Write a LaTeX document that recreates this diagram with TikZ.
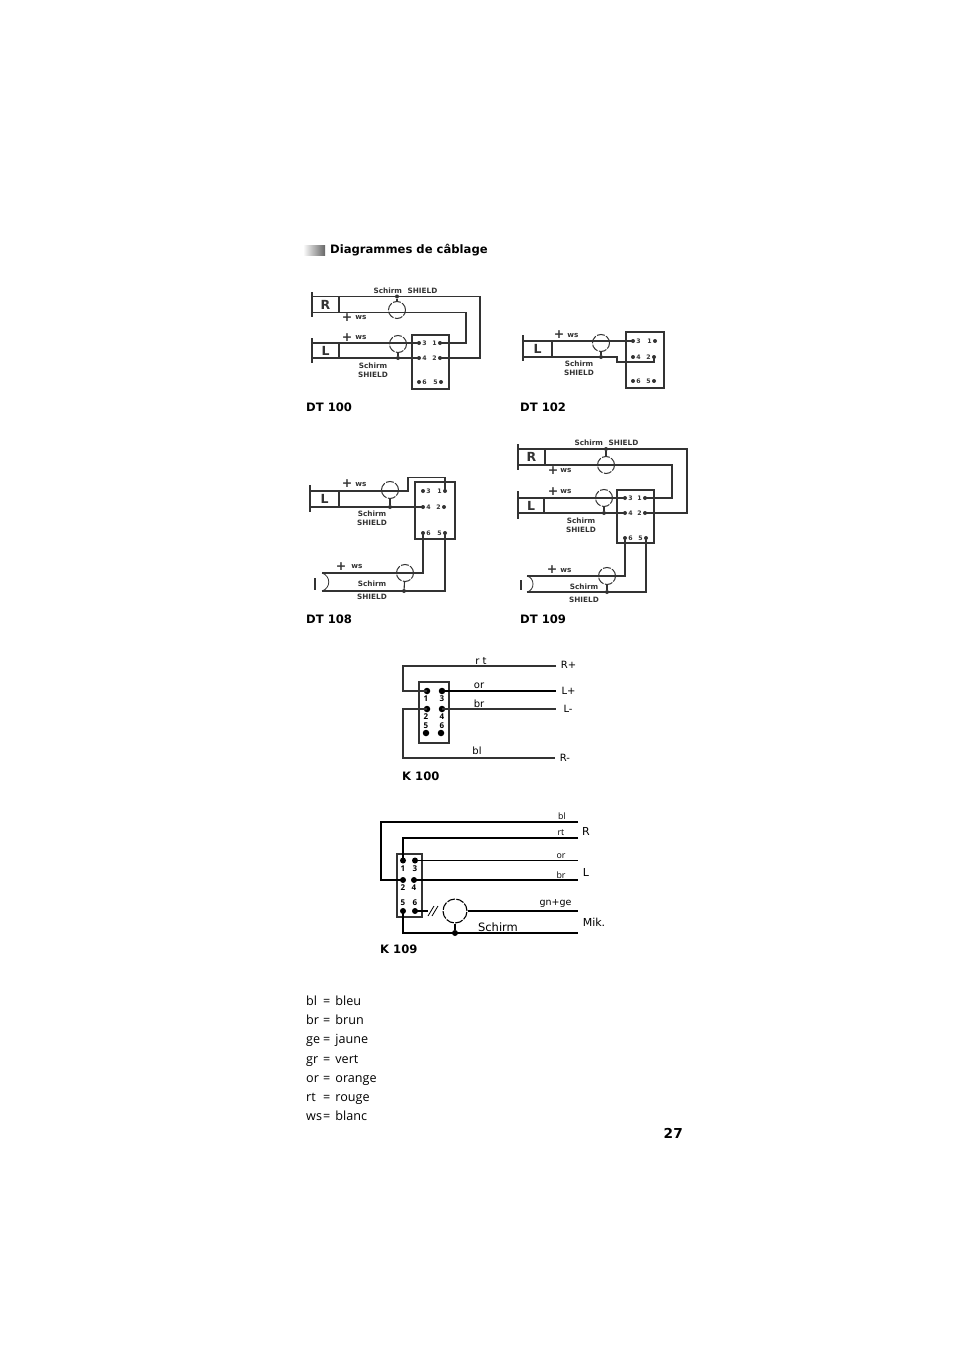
\documentclass[tikz,border=0pt]{standalone}
\usepackage{fontspec}
\setmainfont{Open Sans}
\newfontfamily\dv{DejaVu Sans}
\definecolor{ink}{gray}{0.2}
\tikzset{
  x=1pt,y=-1pt,
  wire/.style={draw=ink,line width=1.1pt,line join=miter},
  heavy/.style={draw=black,line width=1.3pt},
  pinbox/.style={draw=ink,line width=1.2pt,fill=none,inner sep=0,outer sep=0,anchor=north west},
  spk/.style={draw=ink,line width=1.1pt,inner sep=0,outer sep=0,anchor=north west,font=\dv\bfseries\fontsize{12.5}{12.5}\selectfont,text=ink},
  bar/.style={draw=ink,line width=1.8pt},
  pinpt/.style={circle,fill=ink,inner sep=0,minimum size=4pt},
  rl/.style={label={[tinytxt,xshift=1pt]right:#1}},
  ll/.style={label={[tinytxt,xshift=-1pt]left:#1}},
  bigpin/.style={circle,fill=black,inner sep=0,minimum size=6.5pt},
  dotn/.style={circle,fill=ink,inner sep=0,minimum size=4pt},
  shield/.style={circle,draw=ink,line width=1pt,inner sep=0,minimum size=#1,dash pattern=on 8pt off 1.4pt},
  shield/.default=17pt,
  smalltxt/.style={font=\dv\bfseries\fontsize{7.3}{8}\selectfont,text=ink,inner sep=0},
  tinytxt/.style={font=\dv\bfseries\fontsize{6.2}{7}\selectfont,text=ink,inner sep=0},
  plustxt/.style={font=\dv\bfseries\fontsize{12.5}{12}\selectfont,text=ink,inner sep=0},
  capt/.style={font=\dv\bfseries\fontsize{11.6}{12}\selectfont,anchor=base west,inner sep=0},
  leg/.style={font=\fontsize{12.6}{14}\selectfont,anchor=base west,inner sep=0},
  dig/.style={font=\bfseries\fontsize{8}{9}\selectfont,inner sep=0},
  wlab/.style={font=\dv\fontsize{10}{11}\selectfont,inner sep=0},
  wlabs/.style={font=\fontsize{8.8}{10}\selectfont,inner sep=0},
  endl/.style={font=\dv\fontsize{10}{11}\selectfont,inner sep=0},
  endb/.style={font=\dv\fontsize{11}{12}\selectfont,inner sep=0},
}
\begin{document}
\begin{tikzpicture}
\useasboundingbox[fill=white] (0,0) rectangle (954,1351);
% header
\shade[left color=white,right color=black!60] (303,245) rectangle (325,255);
\node[capt] (title) at (330,253.5) {Diagrammes de câblage};
% ---------- DT 100
\node[spk,minimum width=27pt,minimum height=16pt] (aR) at (312,296.5) {R};
\node[spk,minimum width=27pt,minimum height=15pt] (aL) at (312,343) {L};
\draw[bar] (312,292) -- (312,317);
\draw[bar] (312,338) -- (312,363);
\node[pinbox,minimum width=37pt,minimum height=54pt] (abox) at (412,335) {};
\node[pinpt,rl=3] (a3) at (419,343) {};
\node[pinpt,ll=1] (a1) at (440,343) {};
\node[pinpt,rl=4] (a4) at (419,358) {};
\node[pinpt,ll=2] (a2) at (440,358) {};
\node[pinpt,rl=6] (a6) at (419,382) {};
\node[pinpt,ll=5] (a5) at (441,382) {};
\coordinate (ac1) at (480,296.5);\coordinate (ac2) at (480,358);
\coordinate (ac3) at (466,312.5);\coordinate (ac4) at (466,343);
\draw[wire] (aR.north east) -- (ac1) -- (ac2) -- (a2.center);
\draw[wire] (aR.south east) -- (ac3) -- (ac4) -- (a1.center);
\draw[wire] (aL.north east) -- (a3.center);
\draw[wire] (aL.south east) -- (a4.center);
\node[shield] (acR) at (397,310) {};
\node[shield] (acL) at (398,344) {};
\node[dotn] (adR) at (397,296.5) {};
\node[dotn] (adL) at (398,358) {};
\draw[wire] (adR) -- (acR);
\draw[wire] (acL) -- (adL);
\node[smalltxt] (at1) at (405.5,290.5) {Schirm\hspace{3pt} SHIELD};
\node[plustxt] (ap1) at (347,317.5) {+};
\node[smalltxt] (aw1) at (361,318) {ws};
\node[plustxt] (ap2) at (347,337.5) {+};
\node[smalltxt] (aw2) at (361,338) {ws};
\node[smalltxt] (at2) at (373,366) {Schirm};
\node[smalltxt] (at3) at (373,375) {SHIELD};
\node[capt] (acap) at (306,411.5) {DT 100};
% ---------- DT 102
\node[spk,minimum width=29pt,minimum height=16pt] (bL) at (523,341) {L};
\draw[bar] (523,335) -- (523,361);
\node[pinbox,minimum width=38pt,minimum height=56pt] (bbox) at (626,332) {};
\node[pinpt,rl=3] (b3) at (633,341) {};
\node[pinpt,ll=1] (b1) at (655,341) {};
\node[pinpt,rl=4] (b4) at (633,357) {};
\node[pinpt,ll=2] (b2) at (654,357) {};
\node[pinpt,rl=6] (b6) at (633,381) {};
\node[pinpt,ll=5] (b5) at (654,381) {};
\coordinate (bc1) at (617,357);\coordinate (bc2) at (617,362);\coordinate (bc3) at (654,362);
\draw[wire] (bL.north east) -- (b3.center);
\draw[wire] (bL.south east) -- (bc1) -- (bc2) -- (bc3) -- (b2.center);
\node[shield] (bc) at (601,343) {};
\node[dotn] (bd) at (601,357) {};
\draw[wire] (bc) -- (bd);
\node[plustxt] (bp) at (559,335) {+};
\node[smalltxt] (bw) at (573,335.5) {ws};
\node[smalltxt] (bt1) at (579,364) {Schirm};
\node[smalltxt] (bt2) at (579,373) {SHIELD};
\node[capt] (bcap) at (520,411.5) {DT 102};
% ---------- DT 108
\node[spk,minimum width=29pt,minimum height=16pt] (cL) at (310,491) {L};
\draw[bar] (310,485) -- (310,512);
\node[pinbox,minimum width=40pt,minimum height=57pt] (cbox) at (415,482) {};
\node[pinpt,rl=3] (c3) at (423,491) {};
\node[pinpt,ll=1] (c1) at (445,491) {};
\node[pinpt,rl=4] (c4) at (423,507) {};
\node[pinpt,ll=2] (c2) at (444,507) {};
\node[pinpt,rl=6] (c6) at (423,533) {};
\node[pinpt,ll=5] (c5) at (445,533) {};
\coordinate (cc1) at (408,491);\coordinate (cc2) at (408,477.5);\coordinate (cc3) at (445,477.5);
\draw[wire] (cL.north east) -- (cc1) -- (cc2) -- (cc3) -- (c1.center);
\draw[wire] (cL.south east) -- (c4.center);
\node[shield] (cc) at (390,490) {};
\node[dotn] (cd) at (390,507) {};
\draw[wire] (cc) -- (cd);
\coordinate (cm1) at (322,573);\coordinate (cm2) at (322,591);
\coordinate (cm3) at (423,573);\coordinate (cm4) at (445,591);
\draw[wire] (cm1) -- (cm3) -- (c6.center);
\draw[wire] (cm2) -- (cm4) -- (c5.center);
\draw[draw=ink,line width=.8pt] (cm1) .. controls (331,576) and (331,588) .. (cm2);
\draw[bar] (315,578) -- (315,590);
\node[shield] (cs) at (405,573) {};
\node[dotn] (cds) at (404,591) {};
\draw[wire] (cs) -- (cds);
\node[plustxt] (cp1) at (347,484) {+};
\node[smalltxt] (cw1) at (361,484.5) {ws};
\node[smalltxt] (ct1) at (372,514) {Schirm};
\node[smalltxt] (ct2) at (372,523) {SHIELD};
\node[plustxt] (cp2) at (341,567) {+};
\node[smalltxt] (cw2) at (357,567) {ws};
\node[smalltxt] (ct3) at (372,584) {Schirm};
\node[smalltxt] (ct4) at (372,597) {SHIELD};
\node[capt] (ccap) at (306,623.5) {DT 108};
% ---------- DT 109
\node[spk,minimum width=27pt,minimum height=16pt] (dR) at (518,449) {R};
\node[spk,minimum width=26pt,minimum height=15pt] (dL) at (518,498) {L};
\draw[bar] (518,444) -- (518,470);
\draw[bar] (518,491) -- (518,519);
\node[pinbox,minimum width=37pt,minimum height=53pt] (dbox) at (617,490) {};
\node[pinpt,rl=3] (d3) at (625,498) {};
\node[pinpt,ll=1] (d1) at (645,498) {};
\node[pinpt,rl=4] (d4) at (625,513) {};
\node[pinpt,ll=2] (d2) at (645,513) {};
\node[pinpt,rl=6] (d6) at (625,538) {};
\node[pinpt,ll=5] (d5) at (646,538) {};
\coordinate (dc1) at (687,449);\coordinate (dc2) at (687,513);
\coordinate (dc3) at (672,465);\coordinate (dc4) at (672,498);
\draw[wire] (dR.north east) -- (dc1) -- (dc2) -- (d2.center);
\draw[wire] (dR.south east) -- (dc3) -- (dc4) -- (d1.center);
\draw[wire] (dL.north east) -- (d3.center);
\draw[wire] (dL.south east) -- (d4.center);
\node[shield] (dcR) at (606,465) {};
\node[shield] (dcL) at (604,498) {};
\node[dotn] (ddR) at (606,449) {};
\node[dotn] (ddL) at (604,513) {};
\draw[wire] (ddR) -- (dcR);
\draw[wire] (dcL) -- (ddL);
\coordinate (dm1) at (527,576);\coordinate (dm2) at (527,592);
\coordinate (dm3) at (625,576);\coordinate (dm4) at (646,592);
\draw[wire] (dm1) -- (dm3) -- (d6.center);
\draw[wire] (dm2) -- (dm4) -- (d5.center);
\draw[draw=ink,line width=.8pt] (dm1) .. controls (535,578) and (535,590) .. (dm2);
\draw[bar] (521,580) -- (521,590);
\node[shield] (dcs) at (607,576) {};
\node[dotn] (dds) at (607,592) {};
\draw[wire] (dcs) -- (dds);
\node[smalltxt] (dt0) at (606.5,442.5) {Schirm\hspace{3pt} SHIELD};
\node[plustxt] (dp1) at (553,471) {+};
\node[smalltxt] (dw1) at (566,471) {ws};
\node[plustxt] (dp2) at (553,492) {+};
\node[smalltxt] (dw2) at (566,492) {ws};
\node[smalltxt] (dt1) at (581,521) {Schirm};
\node[smalltxt] (dt2) at (581,530) {SHIELD};
\node[plustxt] (dp3) at (552,570) {+};
\node[smalltxt] (dw3) at (566,570.5) {ws};
\node[smalltxt] (dt3) at (584,587) {Schirm};
\node[smalltxt] (dt4) at (584,600) {SHIELD};
\node[capt] (dcap) at (520,623.5) {DT 109};
% ---------- K 100
\node[pinbox,minimum width=30pt,minimum height=61pt] (ebox) at (419,682) {};
\node[bigpin] (e1) at (427,691) {};
\node[bigpin] (e3) at (442,691) {};
\node[bigpin] (e2) at (427,709) {};
\node[bigpin] (e4) at (442,709) {};
\node[bigpin] (e5) at (426,733) {};
\node[bigpin] (e6) at (441,733) {};
\node[dig] (en1) at (426,699) {1};
\node[dig] (en3) at (442,699) {3};
\node[dig] (en2) at (426,717) {2};
\node[dig] (en4) at (442,717) {4};
\node[dig] (en5) at (426,726) {5};
\node[dig] (en6) at (442,726) {6};
\coordinate (ee1) at (403,666);\coordinate (ee2) at (403,691);
\coordinate (ee3) at (403,709);\coordinate (ee4) at (403,758);
\coordinate (eRp) at (556,666);\coordinate (eLp) at (556,691);
\coordinate (eLm) at (556,709);\coordinate (eRm) at (555,758);
\draw[wire] (eRp) -- (ee1) -- (ee2) -- (e1.center);
\draw[heavy] (e3.center) -- (eLp);
\draw[wire] (e4.center) -- (eLm);
\draw[wire] (e2.center) -- (ee3) -- (ee4) -- (eRm);
\node[wlab] (el1) at (481,661) {r t};
\node[wlab] (el2) at (479,686) {or};
\node[wlab] (el3) at (479,704) {br};
\node[wlab] (el4) at (477,751) {bl};
\node[endl] (eR1) at (568.5,664.5) {R+};
\node[endl] (eL1) at (568.5,691) {L+};
\node[endl] (eL2) at (568,709) {L-};
\node[endl] (eR2) at (565,758) {R-};
\node[capt] (ecap) at (402,780) {K 100};
% ---------- K 109
\node[pinbox,minimum width=25pt,minimum height=63pt] (fbox) at (397,854) {};
\node[bigpin,minimum size=6pt] (f1) at (403,860.5) {};
\node[bigpin,minimum size=6pt] (f3) at (415,860.5) {};
\node[bigpin,minimum size=6pt] (f2) at (403,880) {};
\node[bigpin,minimum size=6pt] (f4) at (414,880) {};
\node[bigpin,minimum size=6pt] (f5) at (403,911) {};
\node[bigpin,minimum size=6pt] (f6) at (415,911) {};
\node[dig] (fn1) at (403,868.5) {1};
\node[dig] (fn3) at (415,868.5) {3};
\node[dig] (fn2) at (403,888) {2};
\node[dig] (fn4) at (414,888) {4};
\node[dig] (fn5) at (403,903) {5};
\node[dig] (fn6) at (415,903) {6};
\coordinate (f01) at (381,822);\coordinate (f02) at (381,880);
\coordinate (f03) at (403,838);\coordinate (f04) at (403,933);
\coordinate (fbl) at (578,822);\coordinate (frt) at (578,838);
\coordinate (for) at (578,861);\coordinate (fbr) at (578,880);
\coordinate (fgn) at (578,911);\coordinate (fsc) at (578,933);
\coordinate (fq) at (428,911);
\node[shield=24pt,line width=1.1pt,draw=black] (fc) at (455,911) {};
\node[dotn,minimum size=6pt,fill=black] (fd) at (455,933) {};
\draw[wire,draw=black] (fbl) -- (f01) -- (f02) -- (f2.center);
\draw[heavy] (frt) -- (f03) -- (f1.center);
\draw[wire,draw=black] (f3.center) -- (f3 -| for);
\draw[wire,draw=black] (f4.center) -- (fbr);
\draw[wire,draw=black] (f6.center) -- (fq);
\draw[wire,draw=black] (fc.east) -- (fgn);
\draw[wire,draw=black] (f5.center) -- (f04) -- (fsc);
\draw[wire,draw=black] (fc) -- (fd);
\coordinate (fs1) at (428,916);\coordinate (fs2) at (434,906);
\coordinate (fs3) at (432,916);\coordinate (fs4) at (438,906);
\draw[draw=black,line width=.8pt] (fs1) -- (fs2) (fs3) -- (fs4);
\node[wlabs] (fl1) at (562,816) {bl};
\node[wlabs] (fl2) at (561,833) {rt};
\node[wlabs] (fl3) at (561,856) {or};
\node[wlabs] (fl4) at (561,875) {br};
\node[font=\dv\fontsize{9.5}{10}\selectfont,inner sep=0] (fl5) at (555.5,903.5) {gn+ge};
\node[endb,font=\dv\fontsize{11.5}{12}\selectfont] (fl6) at (498,927) {Schirm};
\node[endb] (fR) at (586,831) {R};
\node[endb] (fL) at (586,872) {L};
\node[endb] (fM) at (594,922) {Mik.};
\node[capt] (fcap) at (380,953) {K 109};
% ---------- legend
\node[leg] (l1a) at (306,1005) {bl}; \node[leg] (l1b) at (323,1005) {=\hspace{5pt}bleu};
\node[leg] (l2a) at (306,1024) {br}; \node[leg] (l2b) at (323,1024) {=\hspace{5pt}brun};
\node[leg] (l3a) at (306,1043.5) {ge}; \node[leg] (l3b) at (323,1043.5) {=\hspace{5pt}jaune};
\node[leg] (l4a) at (306,1063) {gr}; \node[leg] (l4b) at (323,1063) {=\hspace{5pt}vert};
\node[leg] (l5a) at (306,1082) {or}; \node[leg] (l5b) at (323,1082) {=\hspace{5pt}orange};
\node[leg] (l6a) at (306,1101) {rt}; \node[leg] (l6b) at (323,1101) {=\hspace{5pt}rouge};
\node[leg] (l7a) at (306,1120) {ws}; \node[leg] (l7b) at (323,1120) {=\hspace{5pt}blanc};
\node[font=\dv\bfseries\fontsize{13.7}{14}\selectfont,anchor=base east,inner sep=0] (pg) at (683,1138) {27};
\end{tikzpicture}
\end{document}
